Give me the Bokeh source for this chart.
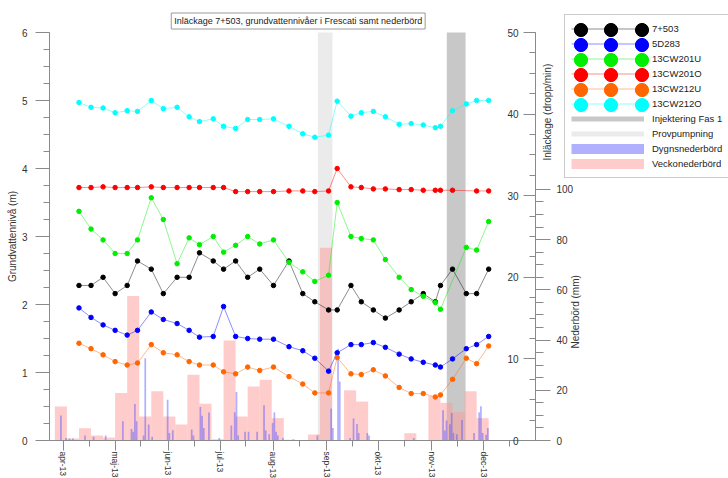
import math
import pandas as pd
from bokeh.plotting import figure
from bokeh.models import (Range1d, LinearAxis, FixedTicker, SingleIntervalTicker, Legend,
                          LegendItem, Label, BoxAnnotation, ColumnDataSource, Grid)
from bokeh.embed import file_html
from bokeh.resources import INLINE

# ---------------- data ----------------
dates = ["2013-04-10", "2013-04-17", "2013-04-24", "2013-05-01", "2013-05-08", "2013-05-14",
         "2013-05-22", "2013-05-29", "2013-06-06", "2013-06-13", "2013-06-19", "2013-06-27",
         "2013-07-03", "2013-07-10", "2013-07-17", "2013-07-24", "2013-08-01", "2013-08-10",
         "2013-08-18", "2013-08-25", "2013-09-02", "2013-09-07", "2013-09-15", "2013-09-21",
         "2013-09-28", "2013-10-05", "2013-10-13", "2013-10-20", "2013-10-27", "2013-11-03",
         "2013-11-06", "2013-11-13", "2013-11-21", "2013-11-27", "2013-12-04"]

inl_7503 = [19, 19, 20, 18, 19, 22, 21, 18, 20, 20, 23, 22, 21, 22, 20, 21, 19, 22, 18, 17,
            16, 16, 19, 17, 16, 15, 16, 17, 18, 17, 19, 21, 18, 18, 21]
gw_5D283 = [1.95, 1.81, 1.70, 1.62, 1.55, 1.62, 1.89, 1.78, 1.72, 1.62, 1.52, 1.53, 1.97, 1.53,
            1.50, 1.49, 1.49, 1.38, 1.32, 1.21, 1.02, 1.29, 1.41, 1.41, 1.44, 1.37, 1.27, 1.20,
            1.15, 1.11, 1.08, 1.20, 1.35, 1.41, 1.53]
gw_13CW201U = [3.37, 3.11, 2.95, 2.75, 2.75, 2.95, 3.57, 3.25, 2.60, 2.98, 2.88, 3.00, 2.77, 2.87,
               3.00, 2.89, 2.95, 2.62, 2.48, 2.34, 2.43, 3.50, 3.00, 2.97, 2.95, 2.66, 2.40, 2.22,
               2.12, 2.03, 1.93, None, 2.84, 2.80, 3.22]
gw_13CW201O = [3.72, 3.72, 3.73, 3.72, 3.72, 3.72, 3.73, 3.72, 3.72, 3.72, 3.72, 3.72, 3.72, 3.66,
               3.66, 3.66, 3.66, 3.67, 3.67, 3.66, 3.67, 4.00, 3.73, 3.72, 3.70, 3.70, 3.69, 3.69,
               3.68, 3.68, 3.68, 3.68, None, 3.67, 3.67]
gw_13CW212U = [1.43, 1.35, 1.26, 1.16, 1.11, 1.14, 1.41, 1.29, 1.26, 1.16, 1.11, 1.11, 1.01, 0.98,
               1.08, 1.03, 1.08, 0.94, 0.83, 0.70, 0.70, 1.22, 0.98, 0.97, 1.04, 0.95, 0.78, 0.69,
               0.69, 0.64, 0.67, 0.90, 1.21, 1.13, 1.39]
gw_13CW212O = [4.97, 4.90, 4.89, 4.82, 4.85, 4.84, 5.00, 4.88, 4.90, 4.76, 4.69, 4.73, 4.62, 4.59,
               4.72, 4.72, 4.73, 4.62, 4.51, 4.46, 4.49, 4.99, 4.77, 4.82, 4.84, 4.76, 4.65, 4.66,
               4.64, 4.60, 4.62, 4.85, 4.95, 5.00, 5.00]

week_start = ["2013-03-27", "2013-04-03", "2013-04-10", "2013-04-17", "2013-04-24", "2013-05-01",
              "2013-05-08", "2013-05-15", "2013-05-22", "2013-05-29", "2013-06-05", "2013-06-12",
              "2013-06-19", "2013-06-26", "2013-07-03", "2013-07-10", "2013-07-17", "2013-07-24",
              "2013-07-31", "2013-08-07", "2013-08-14", "2013-08-21", "2013-08-28", "2013-09-04",
              "2013-09-11", "2013-09-18", "2013-09-25", "2013-10-02", "2013-10-09", "2013-10-16",
              "2013-10-23", "2013-10-30", "2013-11-06", "2013-11-13", "2013-11-20", "2013-11-27"]
week_mm = [13.5, 0.8, 4.9, 2.0, 1.2, 18.9, 57.6, 9.6, 19.6, 9.6, 6.4, 26.2, 14.6, 0.5, 39.8, 9.6,
           21.5, 24.2, 8.9, 0.3, 0.0, 2.4, 76.8, 0.0, 20.0, 15.5, 0.0, 0.0, 0.0, 2.9, 0.0, 17.7,
           15.0, 11.3, 19.6, 8.9]

day_dates = ["2013-03-30", "2013-04-02", "2013-04-04", "2013-04-06", "2013-04-13", "2013-04-18",
             "2013-04-25", "2013-05-05", "2013-05-10", "2013-05-11", "2013-05-12", "2013-05-13",
             "2013-05-17", "2013-05-18", "2013-05-20", "2013-05-22", "2013-05-31", "2013-06-01",
             "2013-06-03", "2013-06-14", "2013-06-15", "2013-06-19", "2013-06-20", "2013-06-21",
             "2013-06-24", "2013-06-30", "2013-07-07", "2013-07-09", "2013-07-10", "2013-07-11",
             "2013-07-15", "2013-07-17", "2013-07-22", "2013-07-26", "2013-07-27", "2013-07-29",
             "2013-07-31", "2013-08-01", "2013-08-02", "2013-08-03", "2013-08-06", "2013-08-12",
             "2013-08-26", "2013-09-03", "2013-09-04", "2013-09-07", "2013-09-08", "2013-09-14",
             "2013-09-16", "2013-09-18", "2013-09-19", "2013-09-24", "2013-09-25", "2013-10-21",
             "2013-11-07", "2013-11-08", "2013-11-09", "2013-11-11", "2013-11-12", "2013-11-13",
             "2013-11-15", "2013-11-18", "2013-11-25", "2013-11-28", "2013-11-29", "2013-11-30",
             "2013-12-02", "2013-12-03"]
day_mm = [10.0, 1.0, 0.8, 0.8, 2.0, 1.5, 2.0, 7.7, 4.6, 3.5, 14.5, 7.7, 2.0, 32.8, 6.4, 1.5,
          16.2, 3.0, 4.1, 4.4, 2.0, 13.3, 9.9, 5.0, 11.2, 1.0, 6.0, 11.3, 19.3, 2.0, 3.5, 3.5,
          3.5, 14.0, 4.0, 2.5, 7.0, 11.2, 3.5, 2.0, 1.0, 0.5, 2.0, 12.7, 5.0, 36.5, 23.5, 1.0,
          8.8, 6.6, 3.0, 3.0, 2.0, 1.0, 12.0, 4.0, 8.0, 6.5, 11.0, 3.0, 2.5, 8.2, 3.0, 11.2,
          13.6, 3.0, 2.3, 5.0]

month_ticks = ["2013-04-01", "2013-05-01", "2013-06-01", "2013-07-01", "2013-08-01",
               "2013-09-01", "2013-10-01", "2013-11-01", "2013-12-01"]
month_labels = ["apr-13", "maj-13", "jun-13", "jul-13", "aug-13", "sep-13", "okt-13",
                "nov-13", "dec-13"]
mid_ticks = ["2013-04-16", "2013-05-16", "2013-06-16", "2013-07-16", "2013-08-16",
             "2013-09-16", "2013-10-16", "2013-11-16", "2013-12-16"]

provpumpning = ("2013-08-26 18:00", "2013-09-04 06:00")
injektering = ("2013-11-09 16:00", "2013-11-20 14:00")
x_window = ("2013-03-23 21:00", "2013-12-31 05:00")
gw_window = (0, 6)
inl_window = (0, 50)
rain_window = (0, 162.5)

title_text = "Inläckage 7+503, grundvattennivåer i Frescati samt nederbörd"
FONT = "Liberation Sans"
TXT = "#333333"
AX = "#8a8a8a"

# ---------------- layout geometry (pixels, canvas = plotting frame) ----------------
W, H = 728, 478
FL, FR, FT, FB = 49, 535, 32, 440       # axes box inside the canvas


def ms(s):
    return pd.Timestamp(s).value / 1e6


def widen(lo, hi, a_lo, a_hi, span):
    k = (hi - lo) / span
    return lo - a_lo * k, hi + a_hi * k


DAY = 86400000.0
x0, x1 = ms(x_window[0]), ms(x_window[1])
xr = widen(x0, x1, FL, W - FR, FR - FL)
yr = widen(gw_window[0], gw_window[1], H - FB, FT, FB - FT)
ir = widen(inl_window[0], inl_window[1], H - FB, FT, FB - FT)
rr = widen(rain_window[0], rain_window[1], H - FB, FT, FB - FT)
rain_px = (FB - FT) / (rain_window[1] - rain_window[0])
inl_px = (FB - FT) / (inl_window[1] - inl_window[0])

p = figure(width=W, height=H, x_range=Range1d(*xr), y_range=Range1d(*yr),
           x_axis_location=None, y_axis_location=None, toolbar_location=None,
           output_backend="svg", min_border=0, outline_line_color=None,
           background_fill_color="white", border_fill_color="white")
p.extra_y_ranges = {"inl": Range1d(*ir), "rain": Range1d(*rr)}
for r in list(p.center):
    if isinstance(r, Grid):
        r.visible = False

# bands
p.add_layout(BoxAnnotation(left=ms(provpumpning[0]), right=ms(provpumpning[1]),
                           bottom=gw_window[0], top=gw_window[1],
                           fill_color="#ebebeb", fill_alpha=1.0, line_color=None, level="underlay"))
p.add_layout(BoxAnnotation(left=ms(injektering[0]), right=ms(injektering[1]),
                           bottom=gw_window[0], top=gw_window[1],
                           fill_color="#c8c8c8", fill_alpha=1.0, line_color=None, level="underlay"))

# weekly precipitation
week_left = [ms(d) for d in week_start]
wsrc = ColumnDataSource(dict(left=week_left, right=[v + 7 * DAY for v in week_left],
                             top=week_mm, bottom=[0] * len(week_mm)))
p.quad(left="left", right="right", top="top", bottom="bottom", source=wsrc,
       y_range_name="rain", fill_color="#ff9999", fill_alpha=0.5, line_color=None)

# daily precipitation
day_left = [ms(d) for d in day_dates]
dsrc = ColumnDataSource(dict(left=day_left, right=[v + DAY for v in day_left],
                             top=day_mm, bottom=[0] * len(day_mm)))
p.quad(left="left", right="right", top="top", bottom="bottom", source=dsrc,
       y_range_name="rain", fill_color="#5050ff", fill_alpha=0.45, line_color=None)

series = [("7+503", inl_7503, "#000000", "inl"),
          ("5D283", gw_5D283, "#0000ff", "default"),
          ("13CW201U", gw_13CW201U, "#00ee00", "default"),
          ("13CW201O", gw_13CW201O, "#ff0000", "default"),
          ("13CW212U", gw_13CW212U, "#ff6600", "default"),
          ("13CW212O", gw_13CW212O, "#00ffff", "default")]

line_rs, dot_rs = [], []
for name, vals, col, rng in series:
    xs = [ms(d) for d, v in zip(dates, vals) if v is not None]
    ys = [v for v in vals if v is not None]
    src = ColumnDataSource(dict(x=xs, y=ys))
    lr = p.line("x", "y", source=src, line_color=col, line_width=0.9, line_alpha=0.5,
                y_range_name=rng)
    sr = p.scatter("x", "y", source=src, size=4.5, fill_color=col, line_color=col,
                   y_range_name=rng)
    line_rs.append(lr)
    dot_rs.append(sr)

# hidden legend stand-ins (a legend swatch needs a renderer that holds data)
px_inj = p.line(x=[ms(injektering[0]), ms(injektering[1])], y=[gw_window[1]] * 2,
                line_color="#c8c8c8", line_width=5, visible=False)
px_prov = p.line(x=[ms(provpumpning[0]), ms(provpumpning[1])], y=[gw_window[1]] * 2,
                 line_color="#ebebeb", line_width=5, visible=False)
px_dygn = p.line(x=day_left, y=day_mm, y_range_name="rain", line_color="#5050ff",
                 line_alpha=0.45, line_width=10, visible=False)
px_veck = p.line(x=week_left, y=week_mm, y_range_name="rain", line_color="#ff9999",
                 line_alpha=0.5, line_width=10, visible=False)


# ---------------- axes ----------------
def style(ax, tick_out, minor_out, standoff, size="10px"):
    ax.axis_line_color = AX
    ax.major_tick_line_color = AX
    ax.minor_tick_line_color = AX
    ax.major_tick_in = 0
    ax.minor_tick_in = 0
    ax.major_tick_out = tick_out
    ax.minor_tick_out = minor_out
    ax.major_label_standoff = standoff
    ax.major_label_text_font = FONT
    ax.major_label_text_font_size = size
    ax.major_label_text_color = TXT
    ax.axis_label_text_font = FONT
    ax.axis_label_text_font_size = "10px"
    ax.axis_label_text_font_style = "normal"
    ax.axis_label_text_color = TXT


has_orient = "axis_label_orientation" in LinearAxis.properties()

left_ax = LinearAxis(ticker=SingleIntervalTicker(interval=1, num_minor_ticks=4),
                     fixed_location=x0, bounds=gw_window, axis_label="Grundvattennivå (m)")
style(left_ax, 14, 6, 8)
left_ax.axis_label_standoff = 1
p.add_layout(left_ax, "left")

inl_ax = LinearAxis(y_range_name="inl", ticker=SingleIntervalTicker(interval=10, num_minor_ticks=4),
                    fixed_location=x1, bounds=inl_window)
style(inl_ax, 12, 6, 5)
p.add_layout(inl_ax, "left")

rain_ax = LinearAxis(y_range_name="rain", bounds=(0, 100),
                     ticker=SingleIntervalTicker(interval=20, num_minor_ticks=4),
                     fixed_location=x1)
style(rain_ax, 15, 8, 6)
p.add_layout(rain_ax, "right")


def title_axis(rng_name, px_per_unit, top_value, text, text_bottom_px, standoff):
    # label-only axis; the rotated text starts at the centre of its bounds
    v = (FB - text_bottom_px) / px_per_unit
    d = min(v, top_value - v)
    ax = LinearAxis(y_range_name=rng_name, ticker=FixedTicker(ticks=[]), fixed_location=x1,
                    bounds=(v - d, v + d), axis_label=text)
    style(ax, 0, 0, 0)
    ax.axis_line_color = None
    ax.axis_label_standoff = standoff
    if has_orient:
        ax.axis_label_orientation = math.pi / 2
    p.add_layout(ax, "right")


title_axis("inl", inl_px, inl_window[1], "Inläckage (dropp/min)", 160, 12)
title_axis("rain", rain_px, rain_window[1], "Nederbörd (mm)", 348, 40)

x_ax = LinearAxis(ticker=FixedTicker(ticks=[ms(t) for t in month_ticks],
                                     minor_ticks=[ms(t) for t in mid_ticks]),
                  fixed_location=gw_window[0], bounds=(x0, x1),
                  major_label_overrides={ms(t): lab for t, lab in zip(month_ticks, month_labels)},
                  major_label_orientation=-math.pi / 2)
style(x_ax, 10, 6, 1, size="8.5px")
p.add_layout(x_ax, "below")

# ---------------- title (screen units measured from the canvas bottom-left) ----------------
p.add_layout(Label(x=297.7, y=H - 20.5, x_units="screen", y_units="screen",
                   text=title_text, text_align="center", text_baseline="middle", text_font=FONT,
                   text_font_size="9px", text_color="#222222", border_line_color="#9a9a9a",
                   background_fill_color="white", padding=3))

# ---------------- legend ----------------
LEG_LEFT, LEG_TOP, PITCH, PAD = 564, 15.7, 15, 6
N_ROWS = 10
items = [LegendItem(label=name, renderers=[lr]) for (name, *_), lr in zip(series, line_rs)]
items += [LegendItem(label="Injektering Fas 1", renderers=[px_inj]),
          LegendItem(label="Provpumpning", renderers=[px_prov]),
          LegendItem(label="Dygnsnederbörd", renderers=[px_dygn]),
          LegendItem(label="Veckonederbörd", renderers=[px_veck])]
leg_bottom = LEG_TOP + 2 * PAD + N_ROWS * PITCH
legA = Legend(items=items, location=(LEG_LEFT, H - leg_bottom), glyph_width=73,
              glyph_height=PITCH, label_height=PITCH, spacing=0, padding=PAD, margin=0,
              label_standoff=8, label_text_font=FONT, label_text_font_size="9.5px",
              label_text_color="#222222", border_line_color="#9a9a9a",
              background_fill_color="white", background_fill_alpha=1.0,
              inactive_fill_alpha=0.0)
p.add_layout(legA)

marker_cols = (580, 610.7, 641.3)
for i, sr in enumerate(dot_rs):
    rc = LEG_TOP + PAD + PITCH / 2 + PITCH * i
    for cx in marker_cols:
        legM = Legend(items=[LegendItem(label=" ", renderers=[sr])],
                      location=(cx - 16.5, H - (rc + 16.5)), glyph_width=33,
                      glyph_height=33, label_height=0, label_width=0, label_standoff=0,
                      spacing=0, padding=0, margin=0, label_text_font_size="1px",
                      label_text_alpha=0, border_line_alpha=0, background_fill_alpha=0)
        p.add_layout(legM)

open("out.html", "w").write(file_html(p, INLINE))
